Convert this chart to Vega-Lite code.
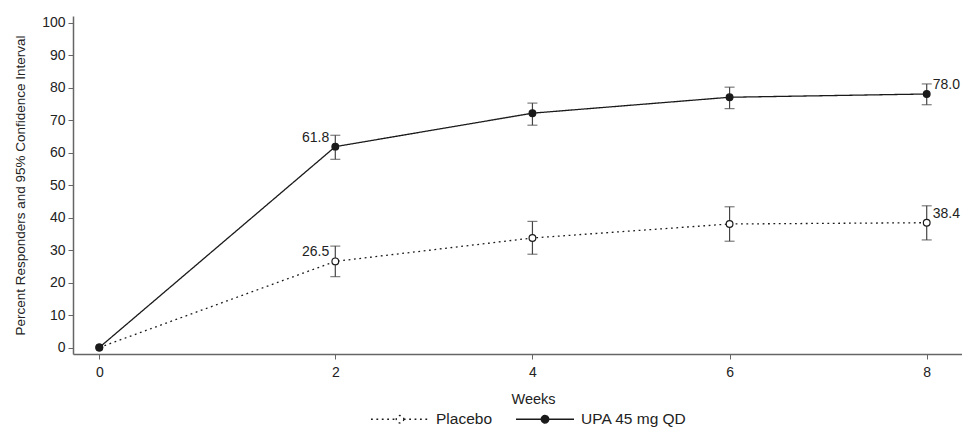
{
  "$schema": "https://vega.github.io/schema/vega-lite/v6.json",
  "autosize": "none",
  "width": 889,
  "height": 338,
  "padding": {"left": 73, "top": 16, "right": 0, "bottom": 74},
  "background": "white",
  "config": {
    "view": {"stroke": null},
    "font": "Liberation Sans",
    "axis": {"grid": false, "domainColor": "#666", "domainWidth": 1.5, "tickColor": "#666", "tickSize": 5, "labelColor": "#222", "titleColor": "#222", "labelFontSize": 14, "titleFontWeight": "normal"}
  },
  "data": {
    "values": [
      {"week": 0, "group": "Placebo", "pct": 0, "lo": null, "hi": null, "label": null},
      {"week": 2, "group": "Placebo", "pct": 26.5, "lo": 21.8, "hi": 31.2, "label": "26.5"},
      {"week": 4, "group": "Placebo", "pct": 33.7, "lo": 28.7, "hi": 38.8, "label": null},
      {"week": 6, "group": "Placebo", "pct": 38.0, "lo": 32.7, "hi": 43.3, "label": null},
      {"week": 8, "group": "Placebo", "pct": 38.4, "lo": 33.1, "hi": 43.6, "label": "38.4"},
      {"week": 0, "group": "UPA 45 mg QD", "pct": 0, "lo": null, "hi": null, "label": null},
      {"week": 2, "group": "UPA 45 mg QD", "pct": 61.8, "lo": 57.9, "hi": 65.3, "label": "61.8"},
      {"week": 4, "group": "UPA 45 mg QD", "pct": 72.1, "lo": 68.4, "hi": 75.2, "label": null},
      {"week": 6, "group": "UPA 45 mg QD", "pct": 77.0, "lo": 73.5, "hi": 80.1, "label": null},
      {"week": 8, "group": "UPA 45 mg QD", "pct": 78.0, "lo": 74.7, "hi": 81.1, "label": "78.0"}
    ]
  },
  "encoding": {
    "x": {
      "field": "week", "type": "quantitative",
      "scale": {"domain": [-0.223, 2, 8.358], "range": [0, 262.3, 889], "nice": false, "zero": false},
      "axis": {"values": [0, 2, 4, 6, 8], "title": "Weeks", "labelFontSize": 14, "titleFontSize": 14.5, "titleFontWeight": "normal", "labelPadding": 6, "titlePadding": 13, "titleX": 460}
    }
  },
  "layer": [
    {
      "mark": {"type": "line", "color": "#1a1a1a", "strokeWidth": 1.3},
      "encoding": {
        "y": {
          "field": "pct", "type": "quantitative",
          "scale": {"domain": [-2, 102], "nice": false, "zero": false},
          "axis": {"values": [0, 10, 20, 30, 40, 50, 60, 70, 80, 90, 100], "title": "Percent Responders and 95% Confidence Interval", "labelFontSize": 14, "titleFontSize": 13.5, "titleFontWeight": "normal", "labelPadding": 3, "titlePadding": 14}
        },
        "strokeDash": {
          "field": "group", "type": "nominal",
          "scale": {"domain": ["Placebo", "UPA 45 mg QD"], "range": [[1.8, 3.6], [1, 0]]},
          "legend": {"title": null, "orient": "none", "direction": "horizontal", "legendX": 297, "legendY": 373, "symbolType": "M-1,0H-0.13M0.13,0H1M0.13,0A0.13,0.13 0 1,1 -0.13,0A0.13,0.13 0 1,1 0.13,0", "symbolSize": 3364, "symbolStrokeColor": "#1a1a1a", "symbolStrokeWidth": 1.3, "labelFontSize": 15.5, "labelColor": "#222", "labelOffset": 6, "columnPadding": 20}
        }
      }
    },
    {
      "transform": [{"filter": "datum.lo != null"}],
      "mark": {"type": "rule", "color": "#444", "strokeWidth": 1.2},
      "encoding": {
        "y": {
          "field": "lo", "type": "quantitative",
          "scale": {"domain": [-2, 102], "nice": false, "zero": false},
          "axis": {"values": [0, 10, 20, 30, 40, 50, 60, 70, 80, 90, 100], "title": "Percent Responders and 95% Confidence Interval", "labelFontSize": 14, "titleFontSize": 13.5, "titleFontWeight": "normal", "labelPadding": 3, "titlePadding": 14}
        },
        "y2": {"field": "hi"}
      }
    },
    {
      "transform": [{"filter": "datum.lo != null"}],
      "mark": {"type": "tick", "color": "#444", "thickness": 1.2, "size": 10, "orient": "horizontal"},
      "encoding": {
        "y": {
          "field": "lo", "type": "quantitative",
          "scale": {"domain": [-2, 102], "nice": false, "zero": false},
          "axis": {"values": [0, 10, 20, 30, 40, 50, 60, 70, 80, 90, 100], "title": "Percent Responders and 95% Confidence Interval", "labelFontSize": 14, "titleFontSize": 13.5, "titleFontWeight": "normal", "labelPadding": 3, "titlePadding": 14}
        }
      }
    },
    {
      "transform": [{"filter": "datum.lo != null"}],
      "mark": {"type": "tick", "color": "#444", "thickness": 1.2, "size": 10, "orient": "horizontal"},
      "encoding": {
        "y": {
          "field": "hi", "type": "quantitative",
          "scale": {"domain": [-2, 102], "nice": false, "zero": false},
          "axis": {"values": [0, 10, 20, 30, 40, 50, 60, 70, 80, 90, 100], "title": "Percent Responders and 95% Confidence Interval", "labelFontSize": 14, "titleFontSize": 13.5, "titleFontWeight": "normal", "labelPadding": 3, "titlePadding": 14}
        }
      }
    },
    {
      "mark": {"type": "point", "shape": "circle", "filled": true, "stroke": "#1a1a1a", "strokeWidth": 1.2, "size": 45, "opacity": 1},
      "encoding": {
        "y": {
          "field": "pct", "type": "quantitative",
          "scale": {"domain": [-2, 102], "nice": false, "zero": false},
          "axis": {"values": [0, 10, 20, 30, 40, 50, 60, 70, 80, 90, 100], "title": "Percent Responders and 95% Confidence Interval", "labelFontSize": 14, "titleFontSize": 13.5, "titleFontWeight": "normal", "labelPadding": 3, "titlePadding": 14}
        },
        "fill": {
          "field": "group", "type": "nominal",
          "scale": {"domain": ["Placebo", "UPA 45 mg QD"], "range": ["white", "#1a1a1a"]},
          "legend": {"title": null, "orient": "none", "direction": "horizontal", "legendX": 297, "legendY": 373, "symbolType": "M-1,0H-0.13M0.13,0H1M0.13,0A0.13,0.13 0 1,1 -0.13,0A0.13,0.13 0 1,1 0.13,0", "symbolSize": 3364, "symbolStrokeColor": "#1a1a1a", "symbolStrokeWidth": 1.3, "labelFontSize": 15.5, "labelColor": "#222", "labelOffset": 6, "columnPadding": 20}
        }
      }
    },
    {
      "transform": [{"filter": "datum.week == 2"}],
      "mark": {"type": "text", "align": "right", "baseline": "middle", "dx": -6, "dy": -9, "fontSize": 14, "color": "#222"},
      "encoding": {
        "y": {
          "field": "pct", "type": "quantitative",
          "scale": {"domain": [-2, 102], "nice": false, "zero": false},
          "axis": {"values": [0, 10, 20, 30, 40, 50, 60, 70, 80, 90, 100], "title": "Percent Responders and 95% Confidence Interval", "labelFontSize": 14, "titleFontSize": 13.5, "titleFontWeight": "normal", "labelPadding": 3, "titlePadding": 14}
        },
        "text": {"field": "label"}
      }
    },
    {
      "transform": [{"filter": "datum.week == 8"}],
      "mark": {"type": "text", "align": "left", "baseline": "middle", "dx": 6, "dy": -9, "fontSize": 14, "color": "#222"},
      "encoding": {
        "y": {
          "field": "pct", "type": "quantitative",
          "scale": {"domain": [-2, 102], "nice": false, "zero": false},
          "axis": {"values": [0, 10, 20, 30, 40, 50, 60, 70, 80, 90, 100], "title": "Percent Responders and 95% Confidence Interval", "labelFontSize": 14, "titleFontSize": 13.5, "titleFontWeight": "normal", "labelPadding": 3, "titlePadding": 14}
        },
        "text": {"field": "label"}
      }
    }
  ]
}
